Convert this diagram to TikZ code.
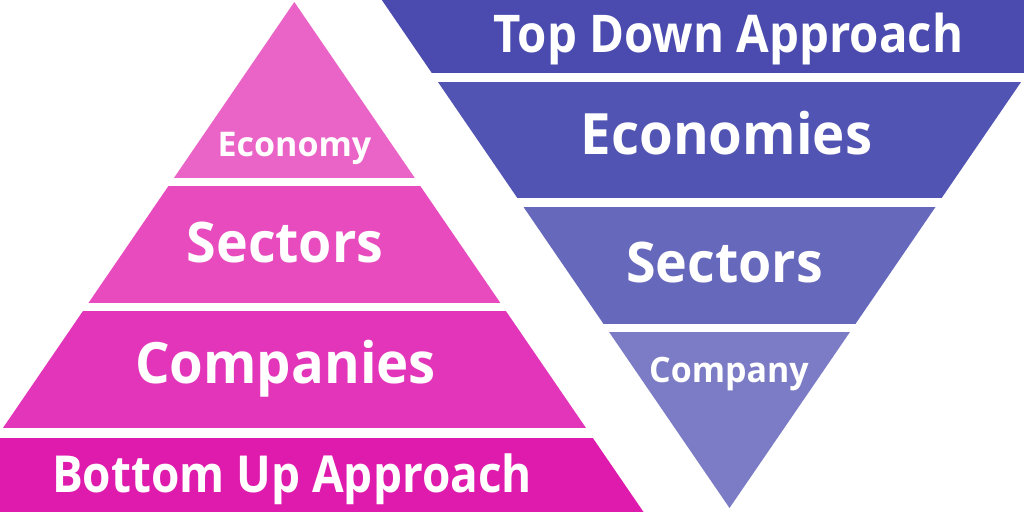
\documentclass[tikz,border=0pt]{standalone}
\usepackage{fontspec}
\setmainfont{Open Sans}
\usepackage{tikz}

\definecolor{pinkA}{HTML}{E964C6}
\definecolor{pinkB}{HTML}{E84BBE}
\definecolor{pinkC}{HTML}{E335B9}
\definecolor{pinkD}{HTML}{DF1BAD}
\definecolor{blueA}{HTML}{4B4BAF}
\definecolor{blueB}{HTML}{5254B4}
\definecolor{blueC}{HTML}{6668BC}
\definecolor{blueD}{HTML}{7B7CC5}

\begin{document}
\begin{tikzpicture}[x=1pt, y=-1pt,
    lbl/.style={text=white, inner sep=0pt, anchor=base, font=\bfseries\fontsize{#1}{#1}\selectfont}]
  \clip (0,0) rectangle (1024,512);

  \begin{scope}
    \clip (294.3,2) -- (649,520) -- (-60,520) -- cycle;
    \fill[pinkA] (0,0) rectangle (1024,177.7);
    \fill[pinkB] (0,186) rectangle (1024,303.3);
    \fill[pinkC] (0,311.3) rectangle (1024,428.3);
    \fill[pinkD] (0,438) rectangle (1024,512);
  \end{scope}

  \begin{scope}
    \clip (729.5,508) -- (375,-10) -- (1084,-10) -- cycle;
    \fill[blueA] (0,0) rectangle (1024,72.7);
    \fill[blueB] (0,81.7) rectangle (1024,198.3);
    \fill[blueC] (0,206.7) rectangle (1024,323.7);
    \fill[blueD] (0,332) rectangle (1024,512);
  \end{scope}

  \node[lbl=34] (eco) at (294.5,156) {Economy};
  \node[lbl=56] (sec) at (285,262.7) {\scalebox{.96}[1]{Sectors}};
  \node[lbl=57] (com) at (285.5,383.7) {\scalebox{.955}[1]{Companies}};
  \node[lbl=51] (bu) at (292,492) {\scalebox{.9}[1]{Bottom Up Approach}};

  \node[lbl=52] (td) at (728.5,52.3) {\scalebox{.91}[1]{Top Down Approach}};
  \node[lbl=57] (ecos) at (726.5,154) {\scalebox{.957}[1]{Economies}};
  \node[lbl=56] (secs) at (724.5,282.7) {\scalebox{.96}[1]{Sectors}};
  \node[lbl=35] (cmp) at (729,382) {\scalebox{.97}[1]{Company}};
\end{tikzpicture}
\end{document}
